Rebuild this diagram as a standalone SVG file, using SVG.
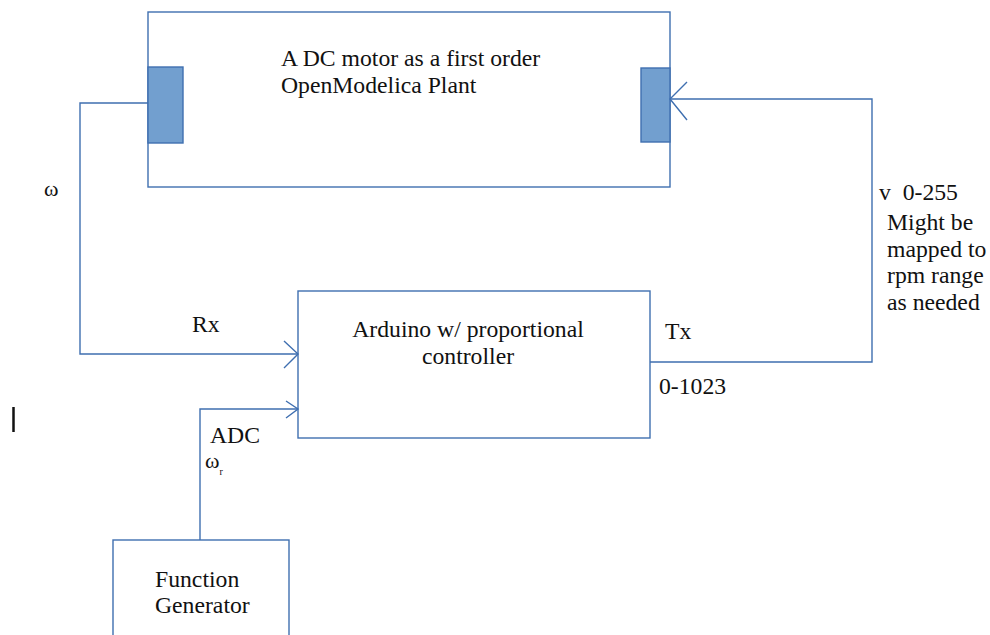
<svg xmlns="http://www.w3.org/2000/svg" width="990" height="635" viewBox="0 0 990 635">
<style>
.box{fill:#ffffff;stroke:#3f6fb0;stroke-width:1.4}
.port{fill:#729fcf;stroke:#3f6fb0;stroke-width:1.4}
.wire{fill:none;stroke:#3f6fb0;stroke-width:1.4}
text{font-family:"Liberation Serif","Times New Roman",serif;font-size:23.7px;fill:#111111;white-space:pre}
.sm{font-size:22px}
</style>
<rect width="990" height="635" fill="#ffffff"/>
<g id="plant">
<rect class="box" x="148" y="12" width="522" height="175"/>
<rect class="port" x="148" y="67" width="35" height="76"/>
<rect class="port" x="641" y="68" width="29" height="74"/>
<text x="281" y="66">A DC motor as a first order</text>
<text x="281" y="93">OpenModelica Plant</text>
</g>
<g id="arduino">
<rect class="box" x="298" y="291" width="352" height="147"/>
<text x="468" y="337" text-anchor="middle">Arduino w/ proportional</text>
<text x="468" y="364" text-anchor="middle">controller</text>
</g>
<g id="funcgen">
<rect class="box" x="113" y="540" width="176" height="110"/>
<text x="155" y="587">Function</text>
<text x="155" y="613">Generator</text>
</g>
<g id="connectors">
<polyline class="wire" points="148,103 80,103 80,354 298,354"/>
<polyline class="wire" points="284,341 298,354 284,368"/>
<polyline class="wire" points="200,540 200,409 298,409"/>
<polyline class="wire" points="286,401 298,409 286,418"/>
<polyline class="wire" points="650,362 872,362 872,99 670,99"/>
<polyline class="wire" points="687,82 670,99 687,120"/>
</g>
<g id="labels">
<text class="sm" x="44" y="196">ω</text>
<text x="192" y="332">Rx</text>
<text x="665" y="339">Tx</text>
<text x="659" y="394">0-1023</text>
<text x="210" y="443">ADC</text>
<text class="sm" x="205" y="468">ω<tspan font-size="10" dy="7">r</tspan></text>
<text x="879" y="200" xml:space="preserve">v  0-255</text>
<text x="887" y="230">Might be</text>
<text x="887" y="257">mapped to</text>
<text x="887" y="283">rpm range</text>
<text x="887" y="310">as needed</text>
</g>
<line x1="13.5" y1="407" x2="13.5" y2="432" stroke="#111111" stroke-width="2.5"/>
</svg>
